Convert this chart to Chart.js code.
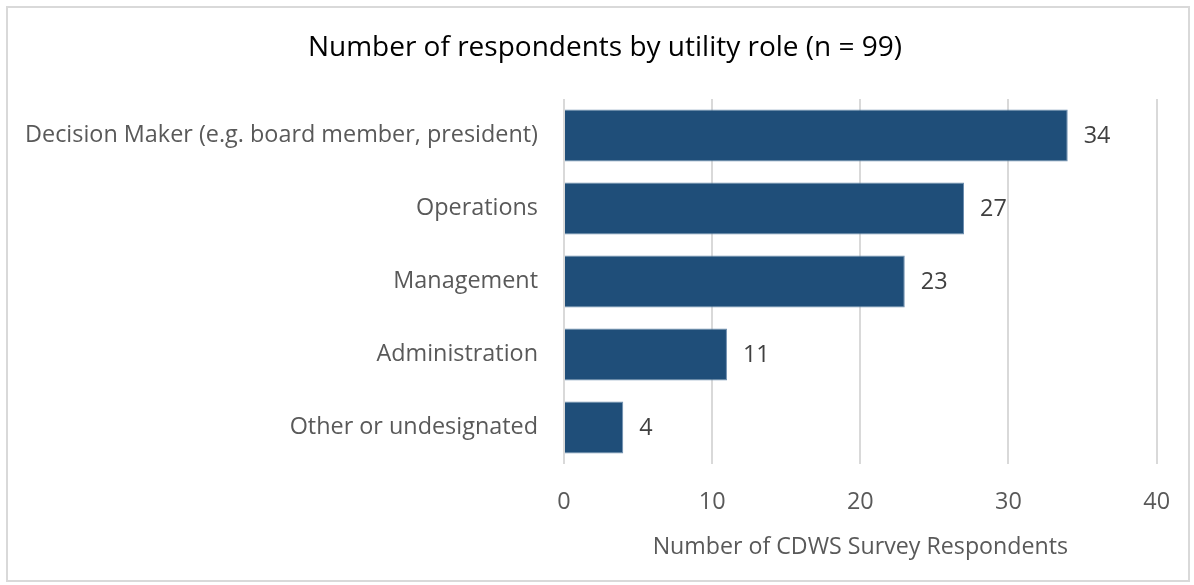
<!DOCTYPE html>
<html lang="en">
  <head>
    <meta charset="UTF-8" />
    <title>Respondents by utility role</title>
    <script src="https://cdn.jsdelivr.net/npm/chart.js@4"></script>
    <style>
      html, body {
        margin: 0;
        padding: 0;
        background: #ffffff;
      }
      #wrap {
        position: relative;
        width: 1194px;
        height: 585px;
      }
      #frame {
        position: absolute;
        left: 6px;
        top: 6px;
        width: 1180px;
        height: 572px;
        border: 2px solid #d9d9d9;
        pointer-events: none;
      }
    </style>
  </head>
  <body>
    <div id="wrap">
      <canvas id="roles" width="1194" height="585"></canvas>
      <div id="frame"></div>
    </div>

    <script>
      const roles = [
        'Decision Maker (e.g. board member, president)',
        'Operations',
        'Management',
        'Administration',
        'Other or undesignated'
      ]
      const respondents = [34, 27, 23, 11, 4]
      const xTicks = [0, 10, 20, 30, 40]
      const chartTitle = 'Number of respondents by utility role (n = 99)'

      const fontFamily = "'Open Sans', 'Noto Sans', sans-serif"
      const labelSize = 23.4

      // value text just past the end of each bar
      const barValues = {
        id: 'barValues',
        afterDatasetsDraw(chart) {
          const { ctx } = chart
          const meta = chart.getDatasetMeta(0)
          ctx.save()
          ctx.font = `${labelSize}px ${fontFamily}`
          ctx.fillStyle = '#404040'
          ctx.textAlign = 'left'
          ctx.textBaseline = 'middle'
          meta.data.forEach((bar, i) => {
            ctx.fillText(String(chart.data.datasets[0].data[i]), bar.x + 16, bar.y + 1)
          })
          ctx.restore()
        }
      }

      // title centred over the whole frame rather than the layout box
      const frameTitle = {
        id: 'frameTitle',
        afterDraw(chart) {
          const { ctx } = chart
          ctx.save()
          ctx.font = `28px ${fontFamily}`
          ctx.fillStyle = '#000000'
          ctx.textAlign = 'center'
          ctx.textBaseline = 'middle'
          ctx.fillText(chartTitle, 605, 48)
          ctx.restore()
        }
      }

      new Chart(document.getElementById('roles'), {
        type: 'bar',
        data: {
          labels: roles,
          datasets: [
            {
              data: respondents,
              backgroundColor: '#1f4e79',
              borderColor: '#6f8fb0',
              borderWidth: 1,
              categoryPercentage: 1,
              barPercentage: 0.71
            }
          ]
        },
        options: {
          indexAxis: 'y',
          responsive: false,
          animation: false,
          layout: {
            padding: { top: 99, right: 35, bottom: 20, left: 0 }
          },
          plugins: {
            legend: { display: false },
            tooltip: { enabled: false },
            title: { display: false }
          },
          scales: {
            x: {
              min: 0,
              max: 40,
              afterBuildTicks(scale) {
                scale.ticks = xTicks.map(v => ({ value: v }))
              },
              afterFit(scale) {
                scale.height = 101
              },
              grid: {
                color: '#d9d9d9',
                lineWidth: 2,
                drawTicks: false
              },
              border: { display: false },
              ticks: {
                color: '#595959',
                padding: 24,
                maxRotation: 0,
                font: { family: fontFamily, size: labelSize }
              },
              title: {
                display: true,
                text: 'Number of CDWS Survey Respondents',
                color: '#595959',
                font: { family: fontFamily, size: 23.2 },
                padding: { top: 10, bottom: 4 }
              }
            },
            y: {
              grid: { display: false, drawTicks: false },
              border: { display: false },
              afterFit(scale) {
                scale.width = 564
              },
              ticks: {
                color: '#595959',
                padding: 26,
                font: { family: fontFamily, size: labelSize }
              }
            }
          }
        },
        plugins: [barValues, frameTitle]
      })
    </script>
  </body>
</html>
